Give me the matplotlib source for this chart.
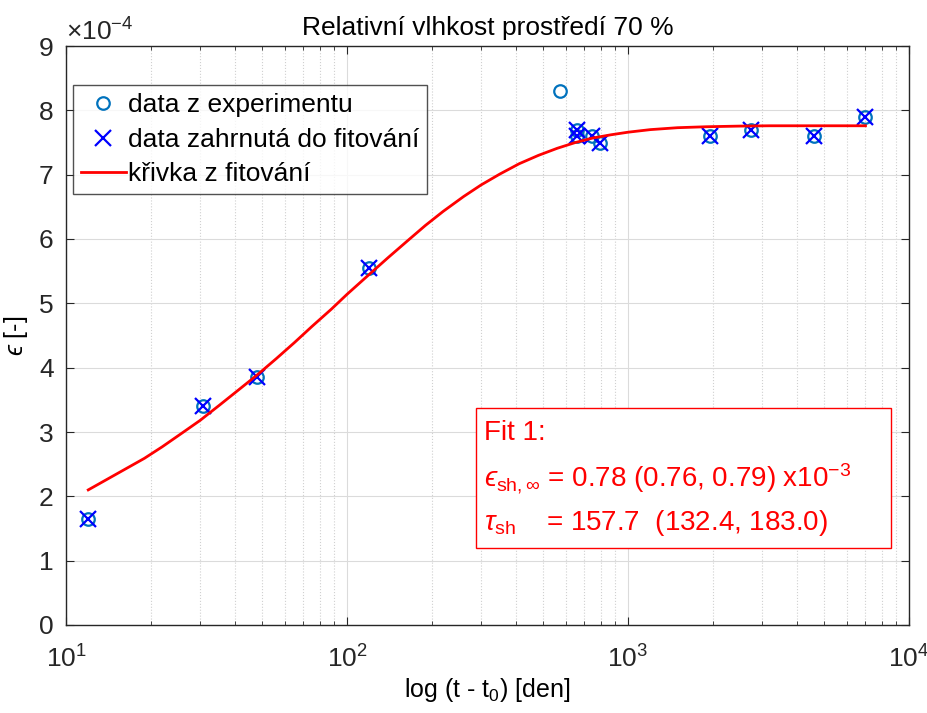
import matplotlib
matplotlib.use("Agg")
import matplotlib.pyplot as plt
from matplotlib.ticker import LogLocator, NullFormatter
from matplotlib.patches import Rectangle

plt.rcParams['font.family'] = ['Liberation Sans', 'DejaVu Sans']
plt.rcParams['mathtext.fontset'] = 'custom'
plt.rcParams['mathtext.rm'] = 'Liberation Sans'
plt.rcParams['mathtext.it'] = 'Liberation Sans:italic'
plt.rcParams['mathtext.sf'] = 'Liberation Sans'
plt.rcParams['mathtext.fallback'] = 'stixsans'

# experiment data (t - t0 in days, strain in 1e-4)
t_exp = [12, 30.7, 47.8, 120, 573, 656, 656, 743, 795, 1958, 2730, 4590, 6970]
eps_exp = [1.65, 3.40, 3.85, 5.55, 8.30, 7.70, 7.60, 7.60, 7.50, 7.60, 7.70, 7.60, 7.90]

# data included in the fit
t_fit = [12, 30.7, 47.8, 120, 656, 656, 743, 795, 1958, 2730, 4590, 6970]
eps_fit = [1.65, 3.40, 3.85, 5.55, 7.70, 7.60, 7.60, 7.50, 7.60, 7.70, 7.60, 7.90]

# fitted curve
t_curve = [12, 19, 22, 26, 30, 35, 41, 48, 56, 65, 75, 88, 100, 120, 140, 165, 190,
           220, 260, 300, 350, 410, 480, 560, 650, 750, 870, 1000, 1200, 1500, 1900,
           2500, 3200, 4200, 5500, 7000]
eps_curve = [2.10, 2.59, 2.77, 2.99, 3.18, 3.41, 3.65, 3.89, 4.14, 4.39, 4.64, 4.91,
             5.14, 5.45, 5.71, 5.98, 6.21, 6.43, 6.66, 6.84, 7.01, 7.17, 7.30, 7.41,
             7.50, 7.57, 7.62, 7.66, 7.70, 7.73, 7.745, 7.755, 7.76, 7.76, 7.76, 7.76]

fit_lines = ['Fit 1:',
             r'$ϵ_{\mathrm{sh},\infty}$ = 0.78 (0.76, 0.79) x10$^{-3}$',
             r'$\tau_{\mathrm{sh}}$    = 157.7  (132.4, 183.0)']

fig = plt.figure(figsize=(9.28, 7.13), dpi=100)
ax = fig.add_axes([66/928, 88/713, (909-66)/928, (625-46)/713])

ax.plot(t_exp, eps_exp, linestyle='none', marker='o', markersize=9,
        markerfacecolor='none', markeredgecolor='#0072BD', markeredgewidth=1.6,
        label='data z experimentu')
ax.plot(t_fit, eps_fit, linestyle='none', marker='x', markersize=12,
        color='#0000FF', markeredgewidth=1.6, label='data zahrnutá do fitování')
ax.plot(t_curve, eps_curve, color='#FF0000', linewidth=2, label='křivka z fitování')

ax.set_xscale('log')
ax.set_xlim(10, 1e4)
ax.set_ylim(0, 9)
ax.set_yticks(range(0, 10))
ax.xaxis.set_minor_locator(LogLocator(base=10, subs=range(2, 10)))
ax.xaxis.set_minor_formatter(NullFormatter())

ax.grid(which='major', color='#DBDBDB', linewidth=0.8, linestyle='-')
ax.grid(which='minor', axis='x', color='#D0D0D0', linewidth=0.8, linestyle=':')
ax.set_axisbelow(True)

ax.tick_params(which='both', direction='in', top=True, right=True, labelsize=19,
               colors='#262626')
ax.tick_params(axis='x', which='major', pad=15)
ax.tick_params(axis='y', which='major', pad=9)
ax.tick_params(which='major', length=6)
ax.tick_params(which='minor', length=3)
for s in ax.spines.values():
    s.set_color('#262626')
    s.set_linewidth(1)

ax.set_title('Relativní vlhkost prostředí 70 %', fontsize=19, pad=8)
ax.set_xlabel('log (t - t$_0$) [den]', fontsize=18, labelpad=2)
ax.set_ylabel(r'$ϵ$ [-]', fontsize=18, labelpad=6)
ax.text(0.0, 1.0, r'$\times$10$^{-4}$', transform=ax.transAxes, fontsize=19,
        ha='left', va='bottom', color='#262626')

leg = ax.legend(loc='upper left', bbox_to_anchor=(0.008, 0.932), fontsize=19,
                frameon=True, fancybox=False, edgecolor='#262626',
                handlelength=1.7, handletextpad=0.1, borderpad=0.3,
                labelspacing=0.4, borderaxespad=0)
leg.get_frame().set_linewidth(1)

# fit annotation box
ax.add_patch(Rectangle((0.4864, 0.133), 0.4922, 0.2418, transform=ax.transAxes,
                       facecolor='white', edgecolor='#FF0000', linewidth=1, zorder=4))
for yy, line in zip([0.332, 0.253, 0.177], fit_lines):
    ax.text(0.4959, yy, line, transform=ax.transAxes, fontsize=20, color='#FF0000',
            ha='left', va='center', zorder=5)

fig.savefig('out.png', dpi=100)
